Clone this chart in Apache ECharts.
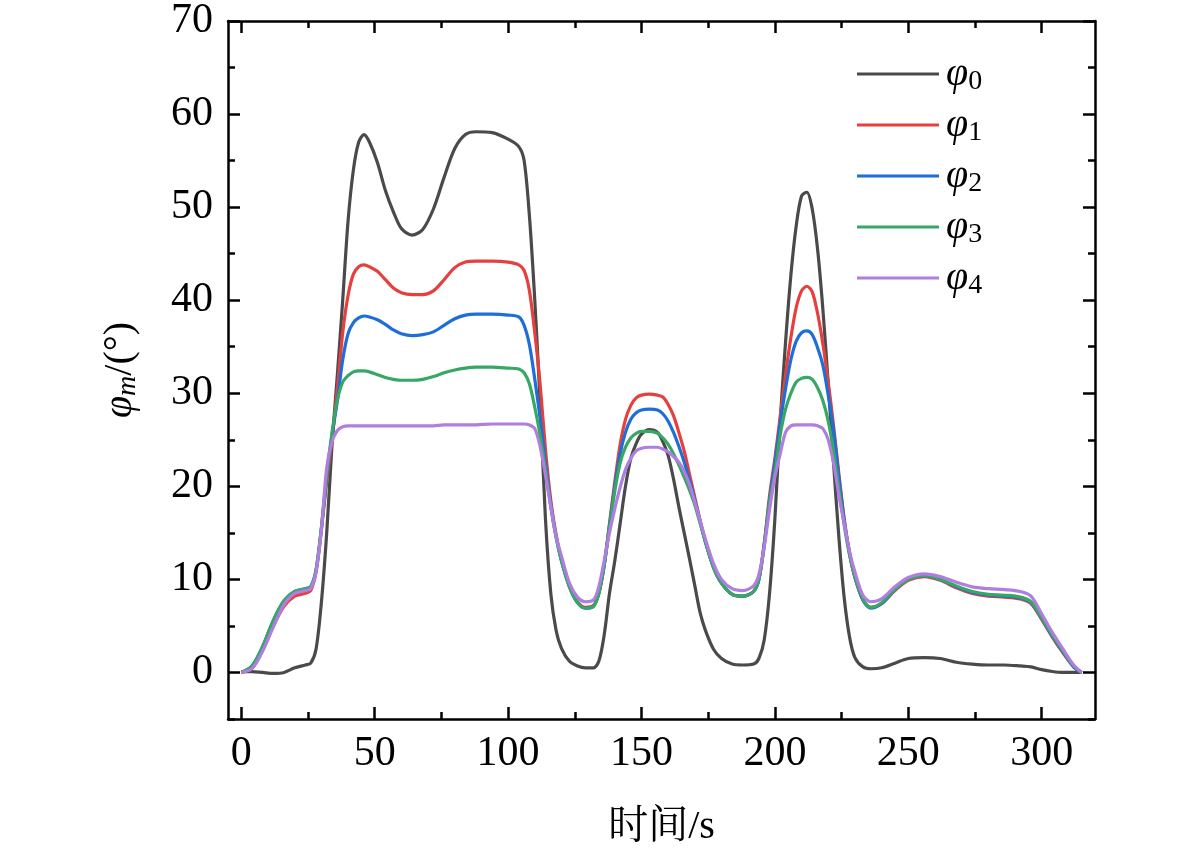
<!DOCTYPE html>
<html>
<head>
<meta charset="utf-8">
<script src="https://cdn.jsdelivr.net/npm/echarts@6/dist/echarts.min.js"></script>
<style>
html, body { margin: 0; padding: 0; background: #fff; }
#main { width: 1181px; height: 852px; }
</style>
</head>
<body>
<div id="main"></div>
<script>
// 时间 (s)
var time = [0, 4, 8, 12, 16, 20, 24, 26, 28, 30,
    32, 34, 36, 38, 40, 42, 44, 46, 48, 51,
    54, 57, 60, 64, 68, 72, 76, 80, 84, 88,
    94, 100, 104, 106, 108, 110, 112, 114, 116, 118,
    120, 123, 126, 129, 132, 134, 136, 138, 140, 142,
    144, 146, 148, 150, 153, 156, 158, 160, 162, 164,
    166, 168, 170, 172, 174, 177, 180, 184, 188, 192,
    194, 196, 198, 200, 202, 204, 206, 208, 210, 212,
    214, 216, 218, 220, 222, 224, 226, 228, 230, 233,
    236, 240, 245, 250, 256, 262, 268, 274, 280, 286,
    292, 296, 300, 304, 308, 312, 315];

var phi0 = [0.1, 0.1, 0, -0.1, 0, 0.5, 0.8, 1.0, 2.5, 7.5,
    15, 24.5, 32, 40, 48.5, 54, 57, 57.8, 57, 54.8,
    51.8, 49.5, 47.7, 47.0, 47.6, 49.8, 53.2, 56.3, 57.8, 58.1,
    58.0, 57.3, 56.5, 55, 49, 40, 29, 16.5, 8.5, 4.5,
    2.6, 1.2, 0.7, 0.5, 0.5, 1.2, 4, 8.5, 12, 16,
    20, 23, 24.6, 25.6, 26.1, 25.8, 24.8, 23.3, 20.8, 17.8,
    15, 12.2, 9.3, 6.4, 4.5, 2.5, 1.5, 0.9, 0.8, 0.9,
    1.5, 3.5, 8.5, 16.5, 27, 35.5, 42.7, 48, 51.2, 51.6,
    49.8, 45.5, 39, 31, 22.5, 14.5, 8, 3.8, 1.6, 0.6,
    0.4, 0.5, 1.0, 1.5, 1.6, 1.5, 1.1, 0.9, 0.8, 0.8,
    0.7, 0.6, 0.3, 0.1, 0, 0, 0];

var phi1 = [0, 0.5, 2.4, 5.0, 7.1, 8.2, 8.5, 8.8, 10.8, 15.3,
    20.5, 25, 30.5, 36.5, 40.5, 42.8, 43.6, 43.8, 43.6, 43.1,
    42.2, 41.3, 40.8, 40.6, 40.6, 41.0, 42.2, 43.5, 44.1, 44.2,
    44.2, 44.1, 43.8, 43.2, 41, 36.5, 31, 24, 18.5, 14.8,
    12.2, 9.3, 7.6, 7.0, 7.2, 8.5, 11.5, 16, 20.5, 24.5,
    27.2, 28.7, 29.5, 29.8, 29.9, 29.8, 29.6, 28.8, 27.6, 25.8,
    23.8, 21.3, 18.8, 16.3, 14, 11.3, 9.6, 8.4, 8.2, 8.7,
    10, 13.8, 19, 23, 27.5, 32, 36, 39.2, 41, 41.5,
    40.9, 38.6, 35.3, 31.2, 26.5, 21.3, 16.5, 12.8, 10.2, 7.8,
    7.0, 7.4, 8.8, 9.9, 10.3, 9.9, 9.1, 8.5, 8.2, 8.1,
    7.9, 7.4, 5.7, 3.8, 2.1, 0.6, 0];

var phi2 = [0, 0.7, 2.8, 5.6, 7.7, 8.7, 9.0, 9.2, 11, 15.5,
    21, 25.5, 29.2, 33.6, 36.4, 37.6, 38.1, 38.3, 38.2, 37.9,
    37.4, 36.8, 36.4, 36.2, 36.3, 36.6, 37.3, 38.0, 38.4, 38.5,
    38.5, 38.4, 38.2, 37.3, 35.2, 31.5, 27.3, 22.5, 18, 14.6,
    12, 9.2, 7.5, 6.9, 7.1, 8.5, 11.5, 15.8, 20, 23.5,
    25.8, 27.2, 27.9, 28.2, 28.3, 28.2, 27.8, 27, 25.8, 24.3,
    22.6, 20.6, 18.5, 16.2, 14, 11.3, 9.6, 8.4, 8.2, 8.7,
    10, 13.8, 18.5, 22.5, 26.8, 30.5, 33.6, 35.6, 36.5, 36.7,
    36.3, 34.9, 33.0, 29.8, 26, 21, 16.3, 12.8, 10.3, 7.8,
    6.9, 7.4, 8.9, 10.0, 10.4, 10.0, 9.2, 8.6, 8.3, 8.2,
    8.0, 7.5, 5.8, 3.9, 2.2, 0.6, 0];

var phi3 = [0, 0.7, 2.8, 5.6, 7.7, 8.7, 9.0, 9.2, 11, 15.5,
    21.3, 25.8, 29.3, 31.2, 31.9, 32.3, 32.4, 32.4, 32.3, 32.0,
    31.7, 31.5, 31.4, 31.4, 31.5, 31.8, 32.2, 32.5, 32.7, 32.8,
    32.8, 32.7, 32.6, 32.2, 31.0, 28.5, 25.5, 21.8, 17.8, 14.5,
    12, 9.2, 7.5, 6.9, 7.1, 8.5, 11.5, 15.6, 19.5, 22.5,
    24.2, 25.2, 25.7, 25.9, 25.9, 25.7, 25.2, 24.5, 23.5, 22.3,
    21, 19.6, 18, 16, 14, 11.3, 9.6, 8.4, 8.2, 8.7,
    10, 13.6, 18.3, 21.5, 25.5, 28.3, 30, 31.2, 31.6, 31.7,
    31.5, 30.6, 29.2, 27, 23.8, 19.8, 15.8, 12.6, 10.3, 7.9,
    7.0, 7.5, 8.9, 10.0, 10.4, 10.0, 9.3, 8.7, 8.4, 8.3,
    8.1, 7.6, 5.9, 4.0, 2.3, 0.7, 0];

var phi4 = [0, 0.4, 2.3, 4.9, 7.3, 8.5, 8.8, 9.0, 10.8, 15.3,
    22, 24.8, 26, 26.4, 26.5, 26.5, 26.5, 26.5, 26.5, 26.5,
    26.5, 26.5, 26.5, 26.5, 26.5, 26.5, 26.6, 26.6, 26.6, 26.6,
    26.7, 26.7, 26.7, 26.7, 26.6, 26.2, 24.3, 21.2, 17.8, 14.6,
    12.5, 9.6, 8.1, 7.6, 7.8, 9.2, 12, 15, 17.6, 19.9,
    21.8, 23, 23.8, 24.1, 24.2, 24.2, 24.0, 23.7, 23.2, 22.6,
    21.6, 20.2, 18.3, 16.3, 14.3, 11.7, 10, 9, 8.8, 9.3,
    10.5, 13.5, 17.5, 21, 23.5, 25.8, 26.5, 26.6, 26.6, 26.6,
    26.6, 26.5, 26.2, 25, 22.5, 19, 16, 13, 10.8, 8.3,
    7.6, 7.9, 9.2, 10.2, 10.6, 10.3, 9.7, 9.2, 9.0, 8.9,
    8.7, 8.2, 6.3, 4.3, 2.5, 0.8, 0];

var seriesNames = ['φ0', 'φ1', 'φ2', 'φ3', 'φ4'];
var seriesColors = ['#4a4a4a', '#e5403d', '#1f6dd6', '#37a764', '#b07de0'];
var xMajor = [0, 50, 100, 150, 200, 250, 300];
var xMinor = [25, 75, 125, 175, 225, 275];
var yMajor = [0, 10, 20, 30, 40, 50, 60, 70];
var yMinor = [-5, 5, 15, 25, 35, 45, 55, 65];

var serif = 'Liberation Serif, Times New Roman, Noto Serif CJK SC, Noto Sans CJK SC, serif';
var axisLine = { show: true, onZero: false, lineStyle: { color: '#000', width: 2.5 } };

function makeAxis(kind, position, ticks, tickLen, withLabels, withLine) {
    var isX = kind === 'x';
    return {
        type: 'value',
        position: position,
        min: -5,
        max: isX ? 320 : 70,
        axisLine: withLine ? axisLine : { show: false, onZero: false },
        axisTick: { show: true, inside: true, length: tickLen, customValues: ticks,
            lineStyle: { color: '#000', width: 2.5 } },
        axisLabel: withLabels ? {
            show: true, customValues: ticks, margin: isX ? 14 : 15,
            fontFamily: serif, fontSize: 42, color: '#000'
        } : { show: false },
        splitLine: { show: false }
    };
}

var myChart = echarts.init(document.getElementById('main'));

var xAxes = [
    makeAxis('x', 'bottom', xMajor, 12, true, true),
    makeAxis('x', 'bottom', xMinor, 7, false, false),
    makeAxis('x', 'top', xMajor, 12, false, true),
    makeAxis('x', 'top', xMinor, 7, false, false)
];
xAxes[0].name = '时间/s';
xAxes[0].nameLocation = 'middle';
xAxes[0].nameGap = 88;
xAxes[0].nameTextStyle = { fontFamily: serif, fontSize: 40, color: '#000' };

var yAxes = [
    makeAxis('y', 'left', yMajor, 12, true, true),
    makeAxis('y', 'left', yMinor, 7, false, false),
    makeAxis('y', 'right', yMajor, 12, false, true),
    makeAxis('y', 'right', yMinor, 7, false, false)
];
yAxes[0].name = '{i|φ}{m|m}{n|/(°)}';
yAxes[0].nameLocation = 'middle';
yAxes[0].nameRotate = 90;
yAxes[0].nameGap = 86;
yAxes[0].nameTextStyle = {
    color: '#000',
    rich: {
        i: { fontFamily: serif, fontStyle: 'italic', fontSize: 40, lineHeight: 44, color: '#000' },
        m: { fontFamily: serif, fontStyle: 'italic', fontSize: 28, lineHeight: 20, verticalAlign: 'bottom', color: '#000' },
        n: { fontFamily: serif, fontSize: 40, lineHeight: 44, color: '#000' }
    }
};

var series = seriesNames.map(function (name, k) {
    var vals = [phi0, phi1, phi2, phi3, phi4][k];
    return {
        name: name,
        type: 'line',
        xAxisIndex: 0,
        yAxisIndex: 0,
        showSymbol: false,
        symbol: 'none',
        smooth: 0.3,
        lineStyle: { color: seriesColors[k], width: 3.2 },
        itemStyle: { color: seriesColors[k] },
        data: time.map(function (t, i) { return [t, vals[i]]; })
    };
});

var option = {
    animation: false,
    backgroundColor: '#fff',
    grid: { left: 228, top: 21, width: 867, height: 698 },
    legend: {
        orient: 'vertical',
        left: 852,
        top: 49,
        icon: 'rect',
        itemWidth: 82,
        itemHeight: 3,
        itemGap: 9,
        data: seriesNames,
        formatter: function (name) {
            return '{i|φ}{s|' + name.slice(1) + '}';
        },
        textStyle: {
            padding: [0, 0, 0, 2],
            rich: {
                i: { fontFamily: serif, fontStyle: 'italic', fontSize: 40, lineHeight: 44, color: '#000' },
                s: { fontFamily: serif, fontSize: 28, lineHeight: 20, verticalAlign: 'bottom', color: '#000' }
            }
        }
    },
    xAxis: xAxes,
    yAxis: yAxes,
    series: series
};

myChart.setOption(option);
</script>
</body>
</html>
